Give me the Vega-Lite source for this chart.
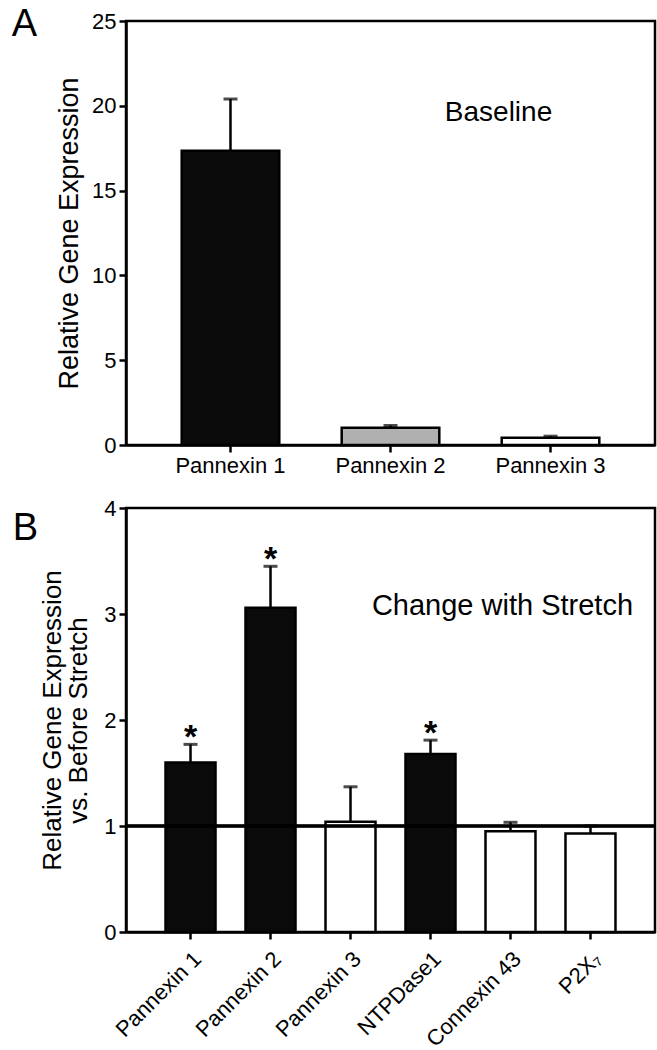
{
  "$schema": "https://vega.github.io/schema/vega-lite/v6.json",
  "padding": {"left": 10, "top": 4, "right": 0, "bottom": 0},
  "config": {
    "font": "Liberation Sans",
    "view": {"stroke": "black", "strokeWidth": 2.5},
    "axis": {"domainColor": "black", "domainWidth": 2.5, "tickColor": "black", "tickWidth": 2.5, "tickSize": 7, "labelColor": "black", "labelFontSize": 22, "titleColor": "black", "titleFontSize": 26, "titleFontWeight": "normal", "grid": false, "labelPadding": 3}
  },
  "resolve": {"scale": {"color": "independent"}},
  "spacing": 17,
  "vconcat": [
    {
      "width": 529,
      "height": 424,
      "data": {"values": [
        {"gene": "Pannexin 1", "mean": 17.35, "upper": 20.4},
        {"gene": "Pannexin 2", "mean": 1.02, "upper": 1.15},
        {"gene": "Pannexin 3", "mean": 0.43, "upper": 0.52}
      ]},
      "layer": [
        {
          "mark": {"type": "bar", "stroke": "black", "strokeWidth": 2.5},
          "encoding": {
            "x": {"field": "gene", "type": "nominal", "sort": null, "scale": {"paddingInner": 0.39, "paddingOuter": 0.348}, "axis": {"title": null, "labelAngle": 0}},
            "y": {"field": "mean", "type": "quantitative", "scale": {"domain": [0, 25], "nice": false}, "axis": {"values": [0, 5, 10, 15, 20, 25], "format": "d", "title": "Relative Gene Expression", "titleFontSize": 27, "titlePadding": 8}},
            "color": {"field": "gene", "type": "nominal", "scale": {"domain": ["Pannexin 1", "Pannexin 2", "Pannexin 3"], "range": ["#0a0a0a", "#b0b0b0", "#ffffff"]}, "legend": null}
          }
        },
        {
          "mark": {"type": "rule", "color": "black", "strokeWidth": 2.5},
          "encoding": {
            "x": {"field": "gene", "type": "nominal", "sort": null},
            "y": {"field": "mean", "type": "quantitative"},
            "y2": {"field": "upper"}
          }
        },
        {
          "mark": {"type": "tick", "color": "black", "size": 14, "thickness": 3},
          "encoding": {
            "x": {"field": "gene", "type": "nominal", "sort": null},
            "y": {"field": "upper", "type": "quantitative"}
          }
        },
        {
          "data": {"values": [{"gene": "Pannexin 3", "pos": 19.1, "label": "Baseline"}]},
          "mark": {"type": "text", "fontSize": 28, "dx": -52, "align": "center", "baseline": "alphabetic", "color": "black"},
          "encoding": {
            "x": {"field": "gene", "type": "nominal", "sort": null},
            "y": {"field": "pos", "type": "quantitative"},
            "text": {"field": "label"}
          }
        },
        {
          "data": {"values": [{"gene": "Pannexin 1", "pos": 25, "label": "A"}]},
          "mark": {"type": "text", "fontSize": 38, "dx": -206, "dy": 15, "align": "center", "baseline": "alphabetic", "color": "black"},
          "encoding": {
            "x": {"field": "gene", "type": "nominal", "sort": null},
            "y": {"field": "pos", "type": "quantitative"},
            "text": {"field": "label"}
          }
        }
      ]
    },
    {
      "width": 529,
      "height": 424,
      "data": {"values": [
        {"gene": "Pannexin 1", "mean": 1.60, "upper": 1.77, "significant": "yes", "star": "*"},
        {"gene": "Pannexin 2", "mean": 3.06, "upper": 3.45, "significant": "yes", "star": "*"},
        {"gene": "Pannexin 3", "mean": 1.04, "upper": 1.37, "significant": "no", "star": ""},
        {"gene": "NTPDase1", "mean": 1.68, "upper": 1.81, "significant": "yes", "star": "*"},
        {"gene": "Connexin 43", "mean": 0.95, "upper": 1.035, "significant": "no", "star": ""},
        {"gene": "P2X₇", "mean": 0.93, "upper": 1.0, "significant": "no", "star": ""}
      ]},
      "layer": [
        {
          "mark": {"type": "bar", "stroke": "black", "strokeWidth": 2.5},
          "encoding": {
            "x": {"field": "gene", "type": "nominal", "sort": null, "scale": {"paddingInner": 0.375, "paddingOuter": 0.494}, "axis": {"title": null, "labelAngle": -45, "labelPadding": 9}},
            "y": {"field": "mean", "type": "quantitative", "scale": {"domain": [0, 4], "nice": false}, "axis": {"values": [0, 1, 2, 3, 4], "format": "d", "title": ["Relative Gene Expression", "vs. Before Stretch"], "titlePadding": 12, "titleLineHeight": 26}},
            "color": {"field": "significant", "type": "nominal", "scale": {"domain": ["yes", "no"], "range": ["#0a0a0a", "#ffffff"]}, "legend": null}
          }
        },
        {
          "mark": {"type": "rule", "color": "black", "strokeWidth": 2.5},
          "encoding": {
            "x": {"field": "gene", "type": "nominal", "sort": null},
            "y": {"field": "mean", "type": "quantitative"},
            "y2": {"field": "upper"}
          }
        },
        {
          "mark": {"type": "tick", "color": "black", "size": 14, "thickness": 3},
          "encoding": {
            "x": {"field": "gene", "type": "nominal", "sort": null},
            "y": {"field": "upper", "type": "quantitative"}
          }
        },
        {
          "mark": {"type": "text", "fontSize": 34, "fontWeight": "bold", "dy": 4, "align": "center", "baseline": "alphabetic", "color": "black"},
          "encoding": {
            "x": {"field": "gene", "type": "nominal", "sort": null},
            "y": {"field": "upper", "type": "quantitative"},
            "text": {"field": "star"}
          }
        },
        {
          "mark": {"type": "rule", "color": "black", "strokeWidth": 2.5},
          "encoding": {"y": {"datum": 1}}
        },
        {
          "data": {"values": [{"gene": "Connexin 43", "pos": 2.99, "label": "Change with Stretch"}]},
          "mark": {"type": "text", "fontSize": 29, "dx": -8, "align": "center", "baseline": "alphabetic", "color": "black"},
          "encoding": {
            "x": {"field": "gene", "type": "nominal", "sort": null},
            "y": {"field": "pos", "type": "quantitative"},
            "text": {"field": "label"}
          }
        },
        {
          "data": {"values": [{"gene": "Pannexin 1", "pos": 4, "label": "B"}]},
          "mark": {"type": "text", "fontSize": 38, "dx": -165, "dy": 32, "align": "center", "baseline": "alphabetic", "color": "black"},
          "encoding": {
            "x": {"field": "gene", "type": "nominal", "sort": null},
            "y": {"field": "pos", "type": "quantitative"},
            "text": {"field": "label"}
          }
        }
      ]
    }
  ]
}
